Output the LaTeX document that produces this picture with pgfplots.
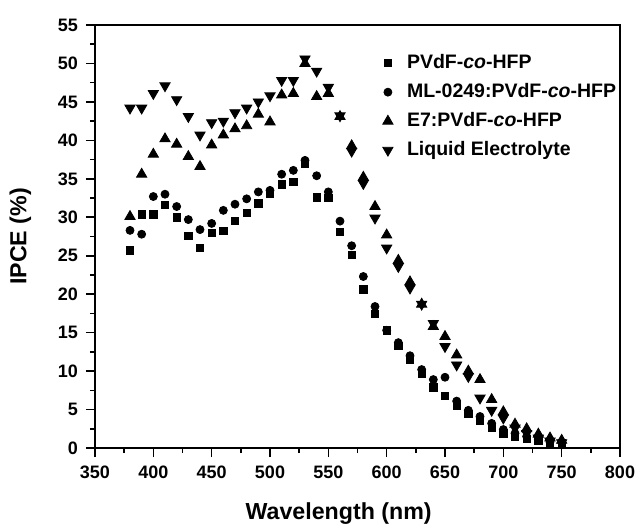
\documentclass[border=0pt]{standalone}
\usepackage{fontspec}
\setmainfont{Liberation Sans}
\usepackage{pgfplots}
\pgfplotsset{compat=1.18}

\begin{document}
\begin{tikzpicture}
% page frame, 1 px of the reference = 0.5pt
\useasboundingbox (-47.5pt,-39.5pt) rectangle (270.5pt,224pt);
\begin{axis}[
    at={(0,0)}, anchor=south west,
    scale only axis,
    width=262.5pt, height=211.5pt,
    xmin=350, xmax=800, ymin=0, ymax=55,
    xtick={350,400,...,800},
    ytick={0,5,...,55},
    minor x tick num=1, minor y tick num=1,
    tick pos=left, tick align=outside,
    major tick length=4.5pt, minor tick length=2.5pt,
    axis line style={line width=0.9pt},
    every tick/.style={line width=0.8pt, black},
    /pgf/number format/assume math mode=true,
    ticklabel style={font=\bfseries\fontsize{9}{11}\selectfont},
    xticklabel style={yshift=-1pt},
    yticklabel style={xshift=-0.5pt},
    xlabel={Wavelength (nm)},
    ylabel={IPCE (\%)},
    label style={font=\bfseries\fontsize{11.6}{13}\selectfont},
    xlabel style={at={(axis description cs:0.464,-0.168)}, anchor=base},
    ylabel style={at={(axis description cs:-0.108,0.5)}, anchor=south},
    legend style={draw=none, fill=none, at={(axis description cs:0.536,0.950)}, anchor=north west,
        font=\bfseries\fontsize{9.75}{11}\selectfont, row sep=1.95pt,
        /tikz/every odd column/.append style={column sep=5pt}},
    legend cell align=left,
]

% PVdF-co-HFP
\addplot[only marks, mark=square*, mark size=1.85pt, black] coordinates {
(380,25.7) (390,30.4) (400,30.4) (410,31.6) (420,30.0) (430,27.6) (440,26.0) (450,28.0)
(460,28.2) (470,29.5) (480,30.6) (490,31.8) (500,33.1) (510,34.3) (520,34.6) (530,37.0)
(540,32.6) (550,32.5) (560,28.1) (570,25.1) (580,20.6) (590,17.4) (600,15.3) (610,13.3)
(620,11.5) (630,9.7) (640,7.9) (650,6.8) (660,5.5) (670,4.4) (680,3.6) (690,2.7)
(700,1.9) (710,1.5) (720,1.2) (730,0.9) (740,0.7) (750,0.6)
};

% ML-0249:PVdF-co-HFP
\addplot[only marks, mark=*, mark size=2pt, black] coordinates {
(380,28.3) (390,27.8) (400,32.7) (410,33.0) (420,31.4) (430,29.7) (440,28.4) (450,29.2)
(460,30.9) (470,31.7) (480,32.4) (490,33.3) (500,33.5) (510,35.6) (520,36.1) (530,37.4)
(540,35.4) (550,33.3) (560,29.5) (570,26.3) (580,22.3) (590,18.4) (600,15.3) (610,13.7)
(620,12.0) (630,10.2) (640,8.9) (650,9.2) (660,6.1) (670,4.9) (680,4.1) (690,3.2)
(700,2.4) (710,1.9) (720,1.5) (730,1.1) (740,0.8) (750,0.7)
};

% E7:PVdF-co-HFP
\addplot[only marks, mark=triangle*, mark size=2.95pt, black] coordinates {
(380,30.1) (390,35.6) (400,38.2) (410,40.2) (420,39.5) (430,37.9) (440,36.6) (450,39.4)
(460,40.7) (470,41.5) (480,41.9) (490,43.4) (500,42.4) (510,45.9) (520,46.1) (530,50.0)
(540,45.7) (550,46.1) (560,43.1) (570,39.3) (580,35.2) (590,31.4) (600,27.7) (610,24.4)
(620,21.6) (630,18.7) (640,15.8) (650,14.5) (660,12.1) (670,10.0) (680,8.9) (690,6.3)
(700,4.7) (710,3.1) (720,2.5) (730,1.8) (740,1.3) (750,1.0)
};

% Liquid electrolyte
\addplot[only marks, mark=triangle*, mark size=2.95pt, mark options={rotate=180}, black] coordinates {
(380,44.2) (390,44.2) (400,46.1) (410,47.1) (420,45.3) (430,43.1) (440,40.7) (450,42.3)
(460,42.5) (470,43.6) (480,44.2) (490,45.0) (500,45.8) (510,47.8) (520,47.8) (530,50.6)
(540,49.0) (550,46.9) (560,43.2) (570,38.6) (580,34.4) (590,29.9) (600,26.0) (610,23.6)
(620,20.8) (630,18.7) (640,16.2) (650,13.2) (660,10.8) (670,9.3) (680,6.5) (690,4.9)
(700,3.9) (710,2.6) (720,1.9) (730,1.3) (740,0.9) (750,0.7)
};

\legend{PVdF-\textit{co}-HFP, ML-0249:PVdF-\textit{co}-HFP, E7:PVdF-\textit{co}-HFP, Liquid Electrolyte}
\end{axis}
\end{tikzpicture}
\end{document}
